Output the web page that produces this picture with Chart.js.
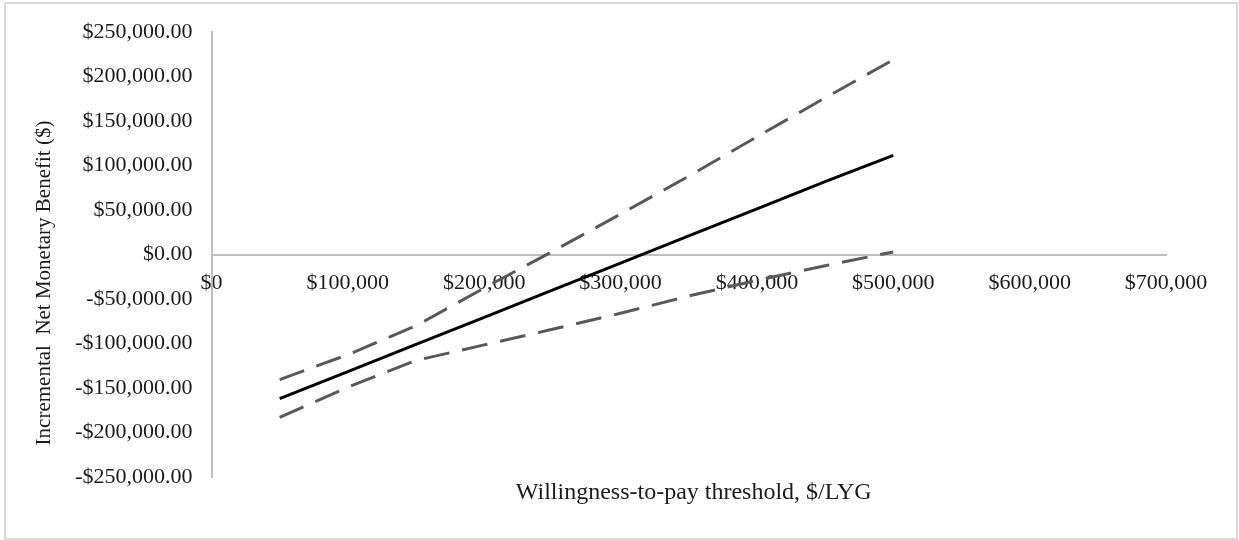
<!DOCTYPE html>
<html>
<head>
<meta charset="utf-8">
<script src="https://cdn.jsdelivr.net/npm/chart.js@4/dist/chart.umd.min.js"></script>
<style>
  html, body { margin: 0; padding: 0; background: #ffffff; }
  #wrap { position: absolute; left: 0; top: 0; width: 1239px; height: 540px; }
</style>
</head>
<body>
<div id="wrap"><canvas id="c"></canvas></div>
<script>
// ---- data ----
const wtpThresholds = [50000, 100000, 150000, 200000, 250000, 300000, 350000, 400000, 450000, 500000];
const inmbMean  = [-162000, -131500, -101000, -70500, -40000, -9500, 21000, 51500, 82000, 111500];
const inmbUpper = [-140500, -112500, -80000, -37500, 3500, 45600, 88200, 132400, 176200, 219000];
const inmbLower = [-183000, -149000, -119000, -101500, -84000, -66000, -46500, -29000, -12500, 3000];

const xTickValues = [0, 100000, 200000, 300000, 400000, 500000, 600000, 700000];
const xTickLabels = ["$0", "$100,000", "$200,000", "$300,000", "$400,000", "$500,000", "$600,000", "$700,000"];
const yTickValues = [-250000, -200000, -150000, -100000, -50000, 0, 50000, 100000, 150000, 200000, 250000];
const yTickLabels = ["-$250,000.00", "-$200,000.00", "-$150,000.00", "-$100,000.00", "-$50,000.00", "$0.00",
                     "$50,000.00", "$100,000.00", "$150,000.00", "$200,000.00", "$250,000.00"];

const xTitle = "Willingness-to-pay threshold, $/LYG";
const yTitle = "Incremental  Net Monetary Benefit ($)";

// ---- chart ----
const FONT = "'Liberation Serif', 'Times New Roman', serif";
const TEXT = "#1a1a1a";

const toXY = (ys) => wtpThresholds.map((x, i) => ({ x: x, y: ys[i] }));

const decor = {
  id: 'decor',
  beforeDraw(chart) {
    const ctx = chart.ctx;
    ctx.save();
    ctx.fillStyle = '#ffffff';
    ctx.fillRect(0, 0, chart.width, chart.height);
    ctx.strokeStyle = '#d9d9d9';
    ctx.lineWidth = 2;
    ctx.strokeRect(5, 3, 1232, 536);
    ctx.restore();
  },
  afterDraw(chart) {
    const ctx = chart.ctx;
    const area = chart.chartArea;
    ctx.save();
    ctx.fillStyle = TEXT;
    ctx.textBaseline = 'middle';
    ctx.textAlign = 'center';
    ctx.font = "24px " + FONT;
    ctx.fillText(xTitle, (area.left + area.right) / 2 + 5, 493);
    ctx.translate(44, 283);
    ctx.rotate(-Math.PI / 2);
    ctx.font = "21px " + FONT;
    ctx.fillText(yTitle, 0, 0);
    ctx.restore();
  }
};

new Chart(document.getElementById('c'), {
  type: 'line',
  data: {
    datasets: [
      { label: 'Upper', data: toXY(inmbUpper), borderColor: '#595959', borderWidth: 3, borderDash: [26, 13],
        pointRadius: 0, fill: false, tension: 0, borderCapStyle: 'butt' },
      { label: 'Lower', data: toXY(inmbLower), borderColor: '#595959', borderWidth: 3, borderDash: [26, 13],
        pointRadius: 0, fill: false, tension: 0, borderCapStyle: 'butt' },
      { label: 'INMB', data: toXY(inmbMean), borderColor: '#000000', borderWidth: 3,
        pointRadius: 0, fill: false, tension: 0 }
    ]
  },
  options: {
    responsive: true,
    maintainAspectRatio: false,
    animation: false,
    events: [],
    layout: { padding: { left: 0, top: 30, right: 73, bottom: 63 } },
    plugins: { legend: { display: false }, tooltip: { enabled: false }, title: { display: false } },
    scales: {
      x: {
        type: 'linear',
        position: { y: 0 },
        min: 0, max: 700000,
        afterBuildTicks: (s) => { s.ticks = xTickValues.map(v => ({ value: v })); },
        grid: { display: false, drawTicks: false },
        border: { display: true, color: '#bfbfbf', width: 2 },
        ticks: {
          padding: 15, color: TEXT, maxRotation: 0, autoSkip: false,
          font: { family: FONT, size: 22 },
          callback: (v) => { const i = xTickValues.indexOf(v); return i >= 0 ? xTickLabels[i] : ''; }
        }
      },
      y: {
        type: 'linear',
        min: -250000, max: 250000,
        afterBuildTicks: (s) => { s.ticks = yTickValues.map(v => ({ value: v })); },
        afterFit: (s) => { s.width = 211.5; },
        grid: { display: false, drawTicks: false },
        border: { display: true, color: '#bfbfbf', width: 2 },
        ticks: {
          padding: 19, color: TEXT, autoSkip: false,
          font: { family: FONT, size: 22 },
          callback: (v) => { const i = yTickValues.indexOf(v); return i >= 0 ? yTickLabels[i] : ''; }
        }
      }
    }
  },
  plugins: [decor]
});
</script>
</body>
</html>
